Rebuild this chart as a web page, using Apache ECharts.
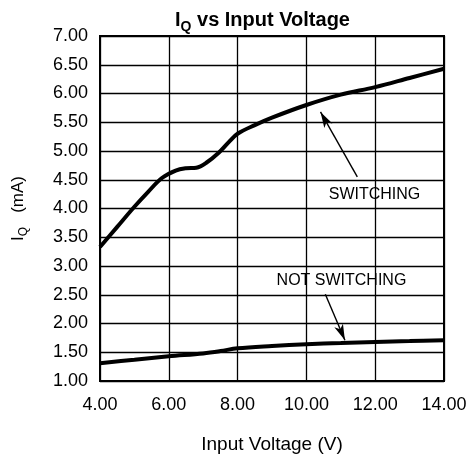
<!DOCTYPE html>
<html>
<head>
<meta charset="utf-8">
<script src="https://cdn.jsdelivr.net/npm/echarts@6/dist/echarts.min.js"></script>
<style>html,body{margin:0;padding:0;background:#fff;overflow:hidden;}#c{width:467px;height:457px;}</style>
</head>
<body>
<div id="c"></div>
<script>
// Data
const switchingV = [4.0, 4.5, 5.0, 5.4, 5.8, 6.2, 6.5, 6.8, 7.1, 7.45, 7.75, 8.0, 8.5, 9.0, 10.0, 11.0, 12.0, 13.0, 14.0];
const switchingI = [3.33, 3.68, 4.03, 4.29, 4.53, 4.66, 4.70, 4.71, 4.80, 4.97, 5.16, 5.30, 5.45, 5.58, 5.80, 5.98, 6.11, 6.27, 6.43];
const notSwitchingV = [4.0, 5.0, 6.0, 7.0, 7.5, 8.0, 9.0, 10.0, 11.0, 12.0, 13.0, 14.0];
const notSwitchingI = [1.31, 1.37, 1.43, 1.48, 1.52, 1.57, 1.61, 1.64, 1.66, 1.68, 1.695, 1.71];
const xTicks = [4, 6, 8, 10, 12, 14];
const yTicks = [1, 1.5, 2, 2.5, 3, 3.5, 4, 4.5, 5, 5.5, 6, 6.5, 7];
// annotations: label, label position, arrow tail -> arrow head
const switchingLabel = 'SWITCHING';
const switchingLabelPos = [11.98, 4.25];
const switchingArrow = [[11.48, 4.55], [10.41, 5.68]];
const notSwitchingLabel = 'NOT SWITCHING';
const notSwitchingLabelPos = [11.02, 2.74];
const notSwitchingArrow = [[10.55, 2.51], [11.12, 1.71]];

const zip = (a, b) => a.map((v, i) => [v, b[i]]);
const FONT = 'Liberation Sans';

const chart = echarts.init(document.getElementById('c'), null, {renderer: 'canvas', width: 467, height: 457});

function annot(label, pos, arrow) {
  return {
    markPoint: {
      symbol: 'circle', symbolSize: 0, silent: true,
      label: {show: true, position: 'inside', formatter: label, color: '#000', fontFamily: FONT, fontSize: 16},
      data: [{coord: pos}]
    },
    markLine: {
      silent: true, symbol: ['none', 'arrow'], symbolSize: [7, 16],
      lineStyle: {color: '#000', width: 1.4, type: 'solid'},
      label: {show: false},
      data: [[{coord: arrow[0]}, {coord: arrow[1]}]]
    }
  };
}

chart.setOption({
  animation: false,
  backgroundColor: '#fff',
  title: {
    text: '{a|I}{b|Q}{a| vs Input Voltage}',
    left: 170, top: 2,
    textStyle: {
      rich: {
        a: {fontFamily: FONT, fontWeight: 'bold', fontSize: 20, lineHeight: 27, color: '#000'},
        b: {fontFamily: FONT, fontWeight: 'bold', fontSize: 14, lineHeight: 14, verticalAlign: 'bottom', color: '#000'}
      }
    }
  },
  grid: {left: 100, top: 36, width: 344, height: 345, containLabel: false, outerBoundsMode: 'none',
         show: true, borderColor: '#000', borderWidth: 2, backgroundColor: 'transparent'},
  xAxis: {
    type: 'value', min: xTicks[0], max: xTicks[xTicks.length - 1], interval: 2,
    name: 'Input Voltage (V)', nameLocation: 'middle', nameGap: 54,
    nameTextStyle: {fontFamily: FONT, fontSize: 19, color: '#000'},
    axisLine: {show: true, lineStyle: {color: '#000', width: 2}},
    axisTick: {show: false},
    axisLabel: {margin: 15, color: '#000', fontFamily: FONT, fontSize: 18, formatter: v => v.toFixed(2)},
    splitLine: {show: true, lineStyle: {color: '#000', width: 1.3}}
  },
  yAxis: {
    type: 'value', min: yTicks[0], max: yTicks[yTicks.length - 1], interval: 0.5,
    name: '{a|I}{b|Q}{a|   (mA)}', nameLocation: 'middle', nameGap: 70, nameRotate: 90,
    nameTextStyle: {
      rich: {
        a: {fontFamily: FONT, fontSize: 17, lineHeight: 23, color: '#000'},
        b: {fontFamily: FONT, fontSize: 12, lineHeight: 12, verticalAlign: 'bottom', color: '#000'}
      }
    },
    axisLine: {show: true, lineStyle: {color: '#000', width: 2}},
    axisTick: {show: false},
    axisLabel: {margin: 12, color: '#000', fontFamily: FONT, fontSize: 18, formatter: v => v.toFixed(2)},
    splitLine: {show: true, lineStyle: {color: '#000', width: 1.3}}
  },
  series: [
    Object.assign({
      name: 'Switching', type: 'line', data: zip(switchingV, switchingI),
      showSymbol: false, smooth: 0.35,
      lineStyle: {color: '#000', width: 4}, z: 5
    }, annot(switchingLabel, switchingLabelPos, switchingArrow)),
    Object.assign({
      name: 'Not Switching', type: 'line', data: zip(notSwitchingV, notSwitchingI),
      showSymbol: false, smooth: 0.35,
      lineStyle: {color: '#000', width: 4}, z: 5
    }, annot(notSwitchingLabel, notSwitchingLabelPos, notSwitchingArrow))
  ]
});
</script>
</body>
</html>
